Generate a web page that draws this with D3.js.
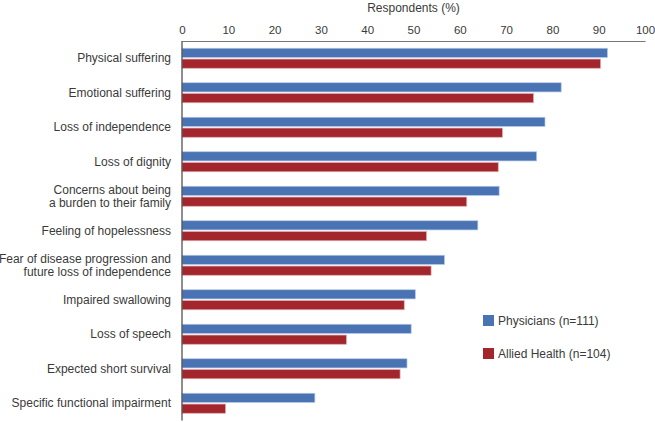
<!DOCTYPE html>
<meta charset="utf-8">
<style>
    body { margin: 0; background: #fff; }
    .label, .tick text, .legend text, .title {
        font-family: "Liberation Sans", Arial, Helvetica, sans-serif;
        fill: #3a3a3a;
    }
</style>
<script src="https://cdn.jsdelivr.net/npm/d3@7"></script>
<div id="chart"></div>
<script>
// data
var categories = [
    "Physical suffering",
    "Emotional suffering",
    "Loss of independence",
    "Loss of dignity",
    "Concerns about being|a burden to their family",
    "Feeling of hopelessness",
    "Fear of disease progression and|future loss of independence",
    "Impaired swallowing",
    "Loss of speech",
    "Expected short survival",
    "Specific functional impairment"
];
var physicians = [91.9, 81.9, 78.4, 76.6, 68.5, 63.9, 56.7, 50.4, 49.5, 48.6, 28.7];
var alliedHealth = [90.4, 75.9, 69.2, 68.3, 61.5, 52.8, 53.8, 48.0, 35.5, 47.1, 9.4];
var seriesNames = ["Physicians (n=111)", "Allied Health (n=104)"];
var seriesColors = ["#4a73b3", "#a3262d"];
var edgeColors = ["#b5c9e8", "#e0a9ac"];
var xTicks = [0, 10, 20, 30, 40, 50, 60, 70, 80, 90, 100];

var width = 655, height = 422;
var plotLeft = 182, plotRight = 645, plotTop = 41, plotBottom = 420.5;

var svg = d3.select("#chart").append("svg")
    .attr("width", width)
    .attr("height", height);

var x = d3.scaleLinear().domain([0, 100]).range([plotLeft, plotRight]);
var y = d3.scaleBand().domain(categories).range([plotTop, plotBottom]);
var sub = d3.scaleBand().domain([0, 1]).range([-10, 10]).paddingInner(0.15);

var rows = categories.map(function (c, i) {
    return { cat: c, vals: [physicians[i], alliedHealth[i]] };
});

// bars
var g = svg.selectAll("g.row")
    .data(rows)
    .enter().append("g")
    .attr("class", "row")
    .attr("transform", function (d) { return "translate(0," + (y(d.cat) + y.bandwidth() / 2) + ")"; });

g.selectAll("rect")
    .data(function (d) { return d.vals; })
    .enter().append("rect")
    .attr("x", x(0))
    .attr("y", function (d, i) { return sub(i); })
    .attr("width", function (d) { return x(d) - x(0); })
    .attr("height", sub.bandwidth())
    .attr("fill", function (d, i) { return seriesColors[i]; })
    .attr("stroke", function (d, i) { return edgeColors[i]; })
    .attr("stroke-width", 0.7);

// category labels
g.append("text")
    .attr("class", "label")
    .attr("x", 171)
    .attr("text-anchor", "end")
    .style("font-size", "12px")
    .each(function (d) {
        var lines = d.cat.split("|");
        var t = d3.select(this);
        lines.forEach(function (line, k) {
            t.append("tspan")
                .attr("x", 171)
                .attr("y", (k - (lines.length - 1) / 2) * 12.5 + 4)
                .text(line);
        });
    });

// top axis
var axis = svg.append("g")
    .attr("transform", "translate(0," + plotTop + ")")
    .call(d3.axisTop(x).tickValues(xTicks).tickSize(0).tickPadding(7));
axis.select(".domain").attr("stroke", "#777").attr("stroke-width", 1.2);
axis.selectAll(".tick text")
    .style("font-size", "11.5px")
    .attr("fill", "#3a3a3a")
    .attr("font-family", "Liberation Sans, Arial, sans-serif");

// left line
svg.append("line")
    .attr("x1", x(0)).attr("x2", x(0))
    .attr("y1", plotTop).attr("y2", plotBottom)
    .attr("stroke", "#444")
    .attr("stroke-width", 1.2);

svg.append("text")
    .attr("class", "title")
    .attr("x", (plotLeft + plotRight) / 2)
    .attr("y", 12)
    .attr("text-anchor", "middle")
    .style("font-size", "12px")
    .text("Respondents (%)");

// legend
var legend = svg.selectAll("g.legend")
    .data(seriesNames)
    .enter().append("g")
    .attr("class", "legend")
    .attr("transform", function (d, i) { return "translate(483," + (315 + i * 33) + ")"; });

legend.append("rect")
    .attr("width", 11).attr("height", 11)
    .attr("fill", function (d, i) { return seriesColors[i]; });

legend.append("text")
    .attr("x", 15)
    .attr("y", 10)
    .style("font-size", "12px")
    .text(function (d) { return d; });
</script>
